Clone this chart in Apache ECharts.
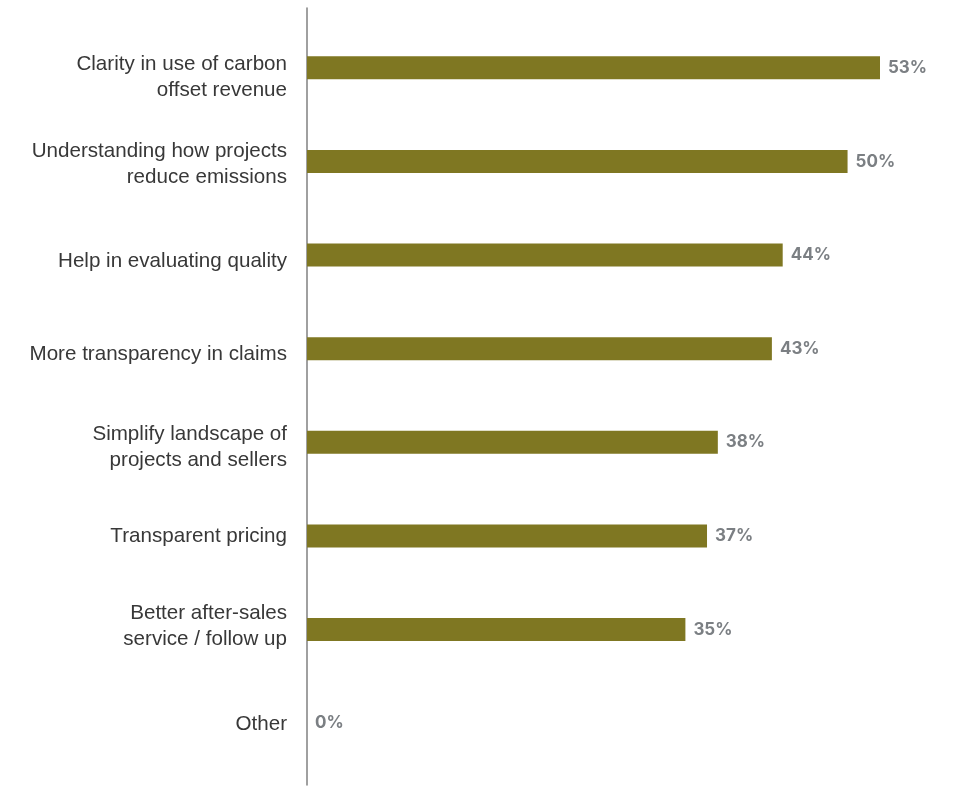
<!DOCTYPE html>
<html>
<head>
<meta charset="utf-8">
<script src="https://cdn.jsdelivr.net/npm/echarts@6/dist/echarts.min.js"></script>
<style>
  html, body { margin: 0; padding: 0; background: #fff; }
  #chart { width: 954px; height: 787px; }
</style>
</head>
<body>
<div id="chart"></div>
<script>
// Buyer priorities, share of respondents (%)
var categories = [
  'Clarity in use of carbon\noffset revenue',
  'Understanding how projects\nreduce emissions',
  'Help in evaluating quality',
  'More transparency in claims',
  'Simplify landscape of\nprojects and sellers',
  'Transparent pricing',
  'Better after-sales\nservice / follow up',
  'Other'
];
var shares = [53, 50, 44, 43, 38, 37, 35, 0];

// Vertical nudge (px, positive = down) of each category label against its bar
var labelNudge = [9.5, 3, 6, 5.5, 4.5, 0, -3, 1];

// An empty spacer line above (or below) the text moves the label block
var richStyles = {
  t: {
    color: '#383838',
    fontFamily: 'Liberation Sans, Arial, sans-serif',
    fontSize: 20.6,
    lineHeight: 26,
    align: 'right'
  }
};
labelNudge.forEach(function (n, i) {
  var h = Math.abs(n) * 2;
  richStyles['g' + i] = { height: h, lineHeight: h, fontSize: 1 };
});

function categoryLabel(name, index) {
  var body = name.split('\n').map(function (l) { return '{t|' + l + '}'; }).join('\n');
  var n = labelNudge[index];
  if (n > 0) return '{g' + index + '|}\n' + body;
  if (n < 0) return body + '\n{g' + index + '|}';
  return body;
}

var chart = echarts.init(document.getElementById('chart'));
chart.setOption({
  animation: false,
  grid: [
    { left: 307, right: 74, top: 21, bottom: 17 },
    // taller frame used only for the vertical baseline
    { left: 307, right: 74, top: 8, bottom: 2 }
  ],
  xAxis: [
    { type: 'value', gridIndex: 0, min: 0, max: 53, show: false },
    { type: 'value', gridIndex: 1, min: 0, max: 53, show: false }
  ],
  yAxis: [
    {
      type: 'category', gridIndex: 0, data: categories, inverse: true,
      axisLine: { show: false },
      axisTick: { show: false },
      axisLabel: {
        margin: 20,
        align: 'right',
        verticalAlign: 'middle',
        formatter: categoryLabel,
        rich: richStyles
      }
    },
    {
      type: 'value', gridIndex: 1, min: 0, max: 1,
      axisLine: { show: true, lineStyle: { color: '#808080', width: 1.5 } },
      axisTick: { show: false },
      axisLabel: { show: false },
      splitLine: { show: false }
    }
  ],
  series: [{
    type: 'bar',
    xAxisIndex: 0,
    yAxisIndex: 0,
    data: shares,
    barWidth: 23,
    itemStyle: { color: '#7f7722' },
    label: {
      show: true,
      position: 'right',
      distance: 8,
      formatter: '{c}%',
      color: '#7b7f83',
      fontFamily: 'Inter, sans-serif',
      fontWeight: 'bold',
      fontSize: 17
    }
  }]
});
</script>
</body>
</html>
